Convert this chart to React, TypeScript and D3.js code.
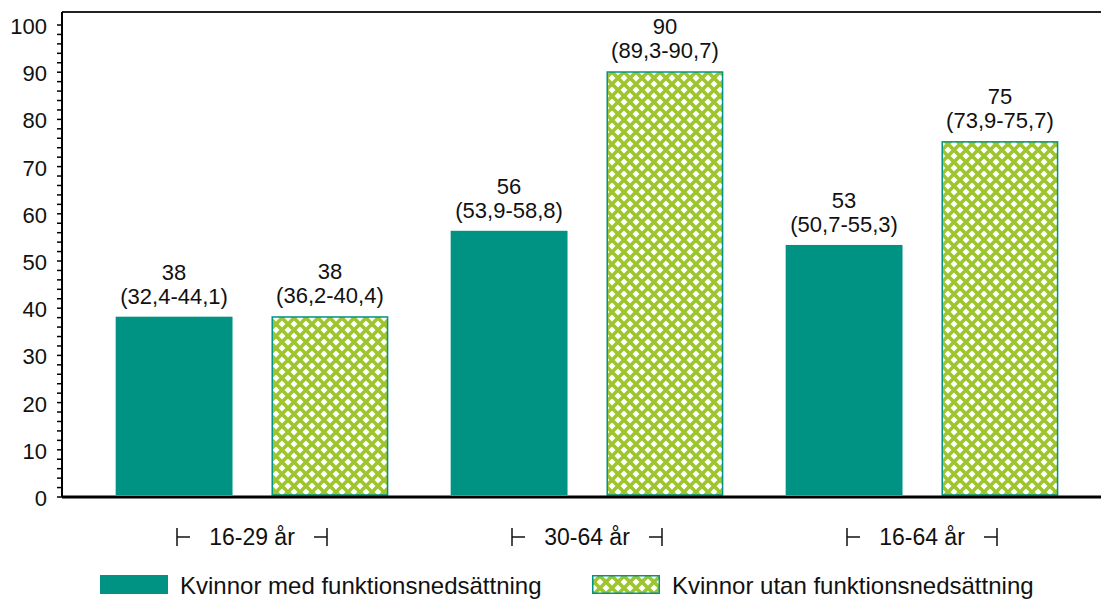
import React from "react";
import * as d3 from "d3";

const categories = ["16-29 år", "30-64 år", "16-64 år"];
const seriesNames = ["Kvinnor med funktionsnedsättning", "Kvinnor utan funktionsnedsättning"];
const withDisability = [38.2, 56.4, 53.4];
const withoutDisability = [38.3, 90.2, 75.4];
const withLabels = ["38", "56", "53"];
const withIntervals = ["(32,4-44,1)", "(53,9-58,8)", "(50,7-55,3)"];
const withoutLabels = ["38", "90", "75"];
const withoutIntervals = ["(36,2-40,4)", "(89,3-90,7)", "(73,9-75,7)"];
const yTicks = [0, 10, 20, 30, 40, 50, 60, 70, 80, 90, 100];

const W = 1101;
const H = 599;
const TEAL = "#009384";
const GREEN = "#9dc52e";
const FONT = "'Liberation Sans', Arial, Helvetica, sans-serif";

export default function App() {
  const left = 62;
  const top = 12;
  const bottom = 497;
  const y = d3.scaleLinear().domain([0, 100]).range([bottom, 25]);
  const x0 = d3.scaleBand<string>().domain(categories).range([84.5, 1089.5]).padding(0);
  const x1 = d3
    .scaleBand<string>()
    .domain(seriesNames)
    .range([0, x0.bandwidth()])
    .paddingInner(0.25)
    .paddingOuter(0.2);
  const minorTicks = d3.range(0, 101, 2);
  const P = 12;

  const series = [
    { name: seriesNames[0], values: withDisability, labels: withLabels, intervals: withIntervals },
    { name: seriesNames[1], values: withoutDisability, labels: withoutLabels, intervals: withoutIntervals },
  ];

  return (
    <svg
      width={W}
      height={H}
      style={{ position: "absolute", left: 0, top: 0, background: "#fff" }}
      fontFamily={FONT}
    >
      <defs>
        <pattern id="trellis" patternUnits="userSpaceOnUse" width={P} height={P}>
          <rect width={P} height={P} fill="#fff" />
          {[-P, 0, P].map((o) => (
            <g key={o}>
              <line x1={o - 2} y1={-2} x2={o + P + 2} y2={P + 2} stroke={GREEN} strokeWidth={3.6} />
              <line x1={o - 2} y1={P + 2} x2={o + P + 2} y2={-2} stroke={GREEN} strokeWidth={3.6} />
            </g>
          ))}
        </pattern>
      </defs>

      {/* top frame line */}
      <line x1={left} y1={top} x2={W} y2={top} stroke="#222" strokeWidth={2} />

      {/* bars */}
      {series.map((s, si) =>
        categories.map((c, ci) => {
          const bx = (x0(c) as number) + (x1(s.name) as number);
          const bw = x1.bandwidth();
          const v = s.values[ci];
          const yt = y(v);
          const solid = si === 0;
          return (
            <g key={`${si}-${ci}`}>
              {solid ? (
                <rect x={bx} y={yt} width={bw} height={bottom - 2 - yt} fill={TEAL} />
              ) : (
                <rect
                  x={bx + 0.75}
                  y={yt + 0.75}
                  width={bw - 1.5}
                  height={bottom - 2 - yt - 0.75}
                  fill="url(#trellis)"
                  stroke={TEAL}
                  strokeWidth={1.5}
                />
              )}
              <text x={bx + bw / 2} y={yt - 37} textAnchor="middle" fontSize={22} fill="#111">
                {s.labels[ci]}
              </text>
              <text x={bx + bw / 2} y={yt - 13} textAnchor="middle" fontSize={22} fill="#111">
                {s.intervals[ci]}
              </text>
            </g>
          );
        })
      )}

      {/* y axis */}
      <line x1={left} y1={top} x2={left} y2={bottom} stroke="#000" strokeWidth={2} />
      {minorTicks.map((t) => (
        <line key={t} x1={left - 5} x2={left} y1={y(t)} y2={y(t)} stroke="#000" strokeWidth={1.5} />
      ))}
      {yTicks.map((t) => (
        <text key={t} x={47} y={y(t) + 9} textAnchor="end" fontSize={22} fill="#111">
          {t}
        </text>
      ))}

      {/* x axis */}
      <line x1={left} y1={bottom} x2={W} y2={bottom} stroke="#000" strokeWidth={3} />
      {categories.map((c) => {
        const cx = (x0(c) as number) + x0.bandwidth() / 2;
        return (
          <g key={c}>
            <line x1={cx - 75} x2={cx - 75} y1={528} y2={546} stroke="#111" strokeWidth={1.5} />
            <line x1={cx - 75} x2={cx - 62} y1={537} y2={537} stroke="#111" strokeWidth={1.5} />
            <line x1={cx + 75} x2={cx + 75} y1={528} y2={546} stroke="#111" strokeWidth={1.5} />
            <line x1={cx + 62} x2={cx + 75} y1={537} y2={537} stroke="#111" strokeWidth={1.5} />
            <text x={cx} y={545} textAnchor="middle" fontSize={23} fill="#111">
              {c}
            </text>
          </g>
        );
      })}

      {/* legend */}
      <rect x={100} y={575} width={68} height={19} fill={TEAL} />
      <text x={180} y={594} fontSize={24} fill="#111">
        {seriesNames[0]}
      </text>
      <rect x={592.75} y={575.75} width={66.5} height={17.5} fill="url(#trellis)" stroke={TEAL} strokeWidth={1.5} />
      <text x={672} y={594} fontSize={24} fill="#111">
        {seriesNames[1]}
      </text>
    </svg>
  );
}
